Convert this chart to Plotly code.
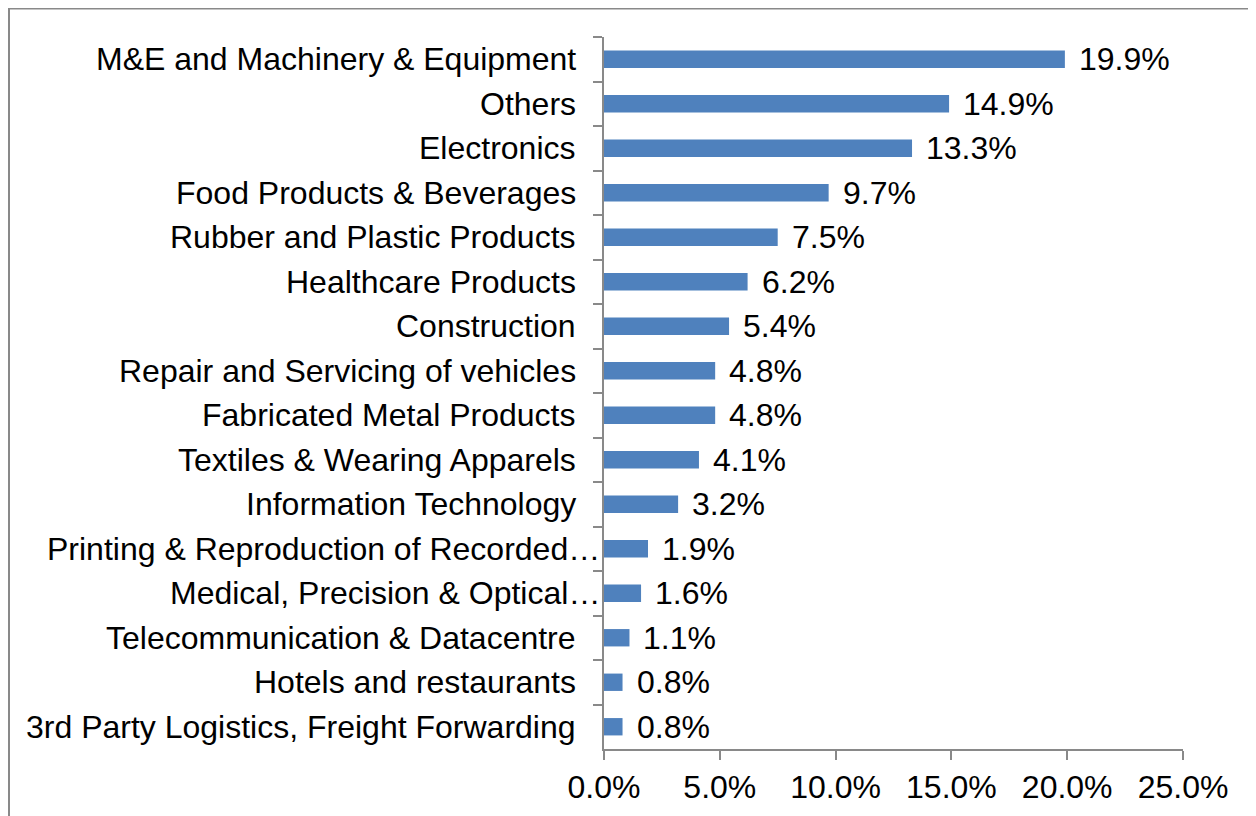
import plotly.graph_objects as go

categories = [
    "M&E and Machinery & Equipment",
    "Others",
    "Electronics",
    "Food Products & Beverages",
    "Rubber and Plastic Products",
    "Healthcare Products",
    "Construction",
    "Repair and Servicing of vehicles",
    "Fabricated Metal Products",
    "Textiles & Wearing Apparels",
    "Information Technology",
    "Printing & Reproduction of Recorded…",
    "Medical, Precision & Optical…",
    "Telecommunication & Datacentre",
    "Hotels and restaurants",
    "3rd Party Logistics, Freight Forwarding",
]
values = [19.9, 14.9, 13.3, 9.7, 7.5, 6.2, 5.4, 4.8, 4.8, 4.1, 3.2, 1.9, 1.6, 1.1, 0.8, 0.8]
x_ticks = [0, 5, 10, 15, 20, 25]

FONT = "Liberation Sans, Arial, sans-serif"
FS = 32
GRAY = "#898989"
BAR = "#4F81BD"

W, H = 1248, 808
L, R, T, B = 596, 73, 29, 67
PW = W - L - R
PH = H - T - B

fig = go.Figure()
fig.add_trace(go.Bar(
    x=values,
    y=categories,
    orientation="h",
    marker=dict(color=BAR, line=dict(width=0)),
    width=0.39,
    hoverinfo="x+y",
))

annotations = []
for c, v in zip(categories, values):
    annotations.append(dict(
        x=v, y=c, xref="x", yref="y",
        text=f"{v:.1f}%", showarrow=False,
        xanchor="left", yanchor="middle", xshift=12,
        font=dict(family=FONT, size=FS, color="black"),
    ))
    # category label (truncated labels run up to the axis, as in the original)
    annotations.append(dict(
        x=0, y=c, xref="paper", yref="y",
        text=c, showarrow=False,
        xanchor="right", yanchor="middle",
        xshift=-2 if c.endswith("…") else -26,
        font=dict(family=FONT, size=FS, color="black"),
    ))

fig.update_layout(
    width=W, height=H,
    margin=dict(l=L, r=R, t=T, b=B, pad=0),
    paper_bgcolor="white", plot_bgcolor="white",
    font=dict(family=FONT, size=FS, color="black"),
    showlegend=False,
    annotations=annotations,
    xaxis=dict(
        range=[0, 25], tickvals=x_ticks,
        ticktext=[f"{t:.1f}%" for t in x_ticks],
        showgrid=False, zeroline=False,
        showline=True, linecolor=GRAY, linewidth=1.5,
        ticks="outside", ticklen=9, tickwidth=1.5, tickcolor=GRAY,
        tickfont=dict(family=FONT, size=FS, color="black"),
    ),
    yaxis=dict(
        categoryorder="array", categoryarray=categories,
        range=[len(categories) - 0.5, -0.5],
        tickson="boundaries",
        showgrid=False, zeroline=False,
        showline=True, linecolor=GRAY, linewidth=1.5,
        ticks="outside", ticklen=9, tickwidth=1.5, tickcolor=GRAY,
        showticklabels=False,
    ),
    shapes=[dict(
        type="rect", xref="paper", yref="paper",
        x0=(1 - L) / PW, x1=(W + 20 - L) / PW,
        y0=(H - B - (H + 20)) / PH, y1=1 + (T - 0.5) / PH,
        line=dict(color=GRAY, width=2), fillcolor="rgba(0,0,0,0)",
        layer="below",
    )],
)

fig.write_html("out.html")
